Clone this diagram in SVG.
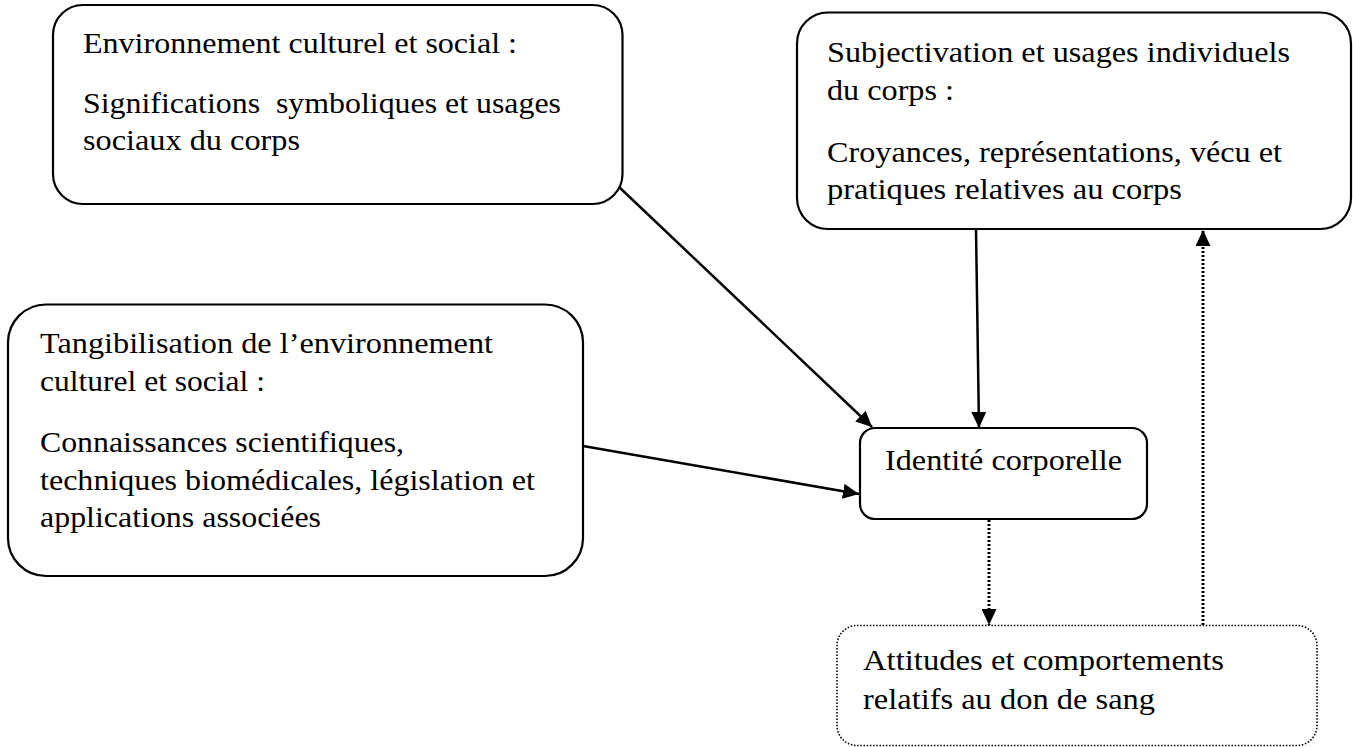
<svg xmlns="http://www.w3.org/2000/svg" width="1353" height="747" viewBox="0 0 1353 747">
<style>
.box{fill:#fff;stroke:#000;stroke-width:2.2}
.dot{fill:#fff;stroke:#000;stroke-width:1.6;stroke-dasharray:1.5 1.7}
text{font-family:"Liberation Serif","Times New Roman",serif;font-size:29.5px;fill:#000}
.line{stroke:#000;stroke-width:2.5;fill:none}
.dline{stroke:#000;stroke-width:3;fill:none;stroke-dasharray:2 2}
</style>
<defs>
<marker id="ah" viewBox="0 0 16 15" refX="16" refY="7.5" markerWidth="16" markerHeight="15" markerUnits="userSpaceOnUse" orient="auto">
<path d="M0,0 L16,7.5 L0,15 Z" fill="#000"/>
</marker>
</defs>
<rect width="1353" height="747" fill="#fff"/>
<g id="connectors">
<line class="line" x1="618" y1="186" x2="872" y2="427" marker-end="url(#ah)"/>
<line class="line" x1="976" y1="229" x2="979" y2="428" marker-end="url(#ah)"/>
<line class="line" x1="583" y1="446" x2="859" y2="494" marker-end="url(#ah)"/>
<line class="dline" x1="989" y1="520" x2="989" y2="625" marker-end="url(#ah)"/>
<line class="dline" x1="1203" y1="625" x2="1203" y2="230" marker-end="url(#ah)"/>
</g>
<g id="node-environnement">
<rect class="box" x="53" y="5" width="569.5" height="199" rx="30"/>
<text x="83" y="53" textLength="434" lengthAdjust="spacingAndGlyphs">Environnement culturel et social :</text>
<text x="83" y="113" textLength="478" lengthAdjust="spacingAndGlyphs" xml:space="preserve">Significations  symboliques et usages</text>
<text x="83" y="150" textLength="217" lengthAdjust="spacingAndGlyphs">sociaux du corps</text>
</g>
<g id="node-subjectivation">
<rect class="box" x="797" y="12.5" width="554" height="216.5" rx="31"/>
<text x="827" y="62" textLength="463" lengthAdjust="spacingAndGlyphs">Subjectivation et usages individuels</text>
<text x="827" y="100" textLength="127" lengthAdjust="spacingAndGlyphs">du corps :</text>
<text x="827" y="162" textLength="455" lengthAdjust="spacingAndGlyphs">Croyances, représentations, vécu et</text>
<text x="827" y="199" textLength="355" lengthAdjust="spacingAndGlyphs">pratiques relatives au corps</text>
</g>
<g id="node-tangibilisation">
<rect class="box" x="8" y="304.5" width="575" height="271.5" rx="38"/>
<text x="40" y="353" textLength="453" lengthAdjust="spacingAndGlyphs">Tangibilisation de l’environnement</text>
<text x="40" y="391" textLength="225" lengthAdjust="spacingAndGlyphs">culturel et social :</text>
<text x="40" y="452" textLength="364" lengthAdjust="spacingAndGlyphs">Connaissances scientifiques,</text>
<text x="40" y="490" textLength="495" lengthAdjust="spacingAndGlyphs">techniques biomédicales, législation et</text>
<text x="40" y="527" textLength="281" lengthAdjust="spacingAndGlyphs">applications associées</text>
</g>
<g id="node-identite">
<rect class="box" x="860" y="428" width="287" height="91" rx="15"/>
<text x="885" y="470" textLength="237" lengthAdjust="spacingAndGlyphs">Identité corporelle</text>
</g>
<g id="node-attitudes">
<rect class="dot" x="837" y="625.5" width="480" height="120" rx="20"/>
<text x="863" y="670" textLength="361" lengthAdjust="spacingAndGlyphs">Attitudes et comportements</text>
<text x="863" y="709" textLength="292" lengthAdjust="spacingAndGlyphs">relatifs au don de sang</text>
</g>
</svg>
